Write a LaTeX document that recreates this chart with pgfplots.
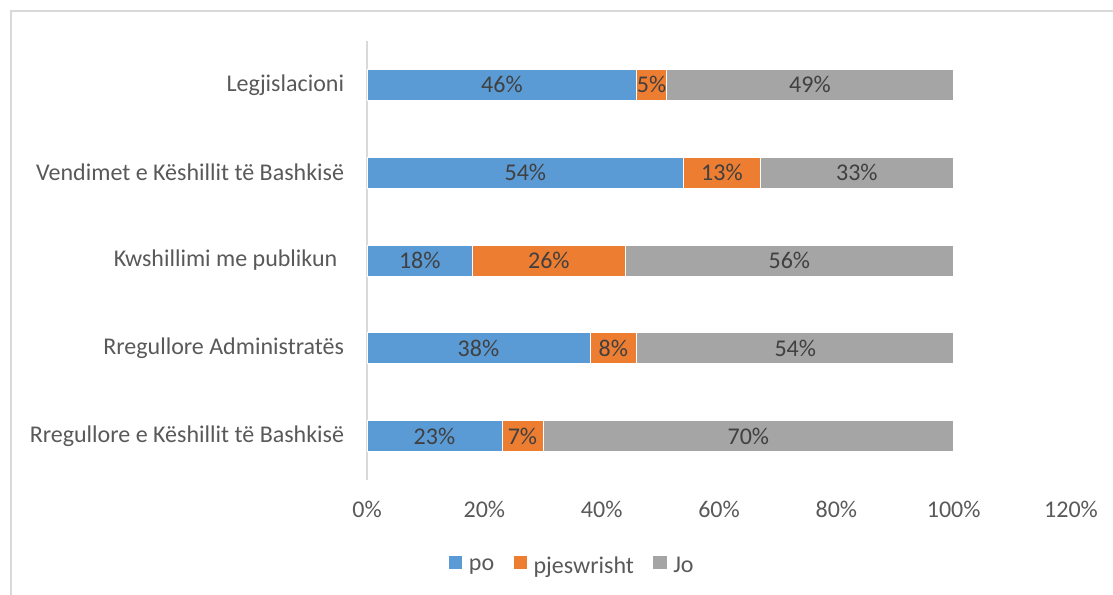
\documentclass[border=0pt]{standalone}
\usepackage{fontspec}
\setmainfont{Carlito}
\usepackage{pgfplots}
\usepackage{pgfplotstable}
\pgfplotsset{compat=1.18}
\definecolor{cblue}{HTML}{5B9BD5}
\definecolor{corange}{HTML}{ED7D31}
\definecolor{cgray}{HTML}{A5A5A5}
\definecolor{txt}{HTML}{595959}
\definecolor{lbl}{HTML}{404040}
\definecolor{frame}{HTML}{D9D9D9}
\pgfplotstableread{
y po pj jo
0 23 7 70
1 38 8 54
2 18 26 56
3 54 13 33
4 46 5 49
}\datatable
\begin{document}
\begin{tikzpicture}[font=\fontsize{18}{21.5}\selectfont]
\useasboundingbox (0,0) rectangle (834.75pt,-445.5pt);
\draw[frame, line width=1.1pt] (8.25pt,-450pt) -- (8.25pt,-8.25pt) -- (840pt,-8.25pt);
\begin{axis}[
  at={(275.25pt,-360pt)}, anchor=south west,
  width=528pt, height=329.25pt, scale only axis,
  xbar stacked, bar width=23.25pt,
  xmin=0, xmax=120, ymin=-0.5, ymax=4.5,
  axis lines*=left,
  x axis line style={draw=none},
  y axis line style={draw=frame, line width=1.1pt},
  major tick length=0pt,
  /pgf/number format/assume math mode=true,
  xtick={0,20,40,60,80,100,120},
  xticklabels={0\%,20\%,40\%,60\%,80\%,100\%,120\%},
  ytick={0,1,2,3,4},
  yticklabels={Rregullore e Këshillit të Bashkisë, Rregullore Administratës, Kwshillimi me publikun\hspace*{5pt}, Vendimet e Këshillit të Bashkisë, Legjislacioni},
  xticklabel style={anchor=base, yshift=-28pt, text=txt, font=\fontsize{18}{21.5}\selectfont},
  yticklabel style={anchor=east, inner sep=0pt, xshift=-17pt, text=txt, font=\fontsize{18}{21.5}\selectfont},
  point meta=explicit,
  nodes near coords={\pgfmathprintnumber{\pgfplotspointmeta}\%},
  every node near coord/.append style={anchor=center, text=lbl, font=\fontsize{18}{21.5}\selectfont},
  legend style={at={(rel axis cs:0.292,-0.196)}, anchor=center, draw=none, fill=none,
    legend columns=-1, font=\fontsize{18}{21.5}\selectfont, text=txt,
    /tikz/every even column/.append style={column sep=12.5pt},
    inner sep=0pt},
  legend image code/.code={\fill[#1, draw=none] (0pt,-2.4pt) rectangle (10pt,7.6pt); \path[draw=none, fill=none] (0pt,0pt) -- (13pt,0pt);},
]
\addplot[fill=cblue, draw=white, line width=0.6pt] table[x=po, y=y, meta=po] {\datatable};
\addplot[fill=corange, draw=white, line width=0.6pt] table[x=pj, y=y, meta=pj] {\datatable};
\addplot[fill=cgray, draw=white, line width=0.6pt] table[x=jo, y=y, meta=jo] {\datatable};
\legend{po, pjeswrisht, Jo}
\end{axis}
\end{tikzpicture}
\end{document}
